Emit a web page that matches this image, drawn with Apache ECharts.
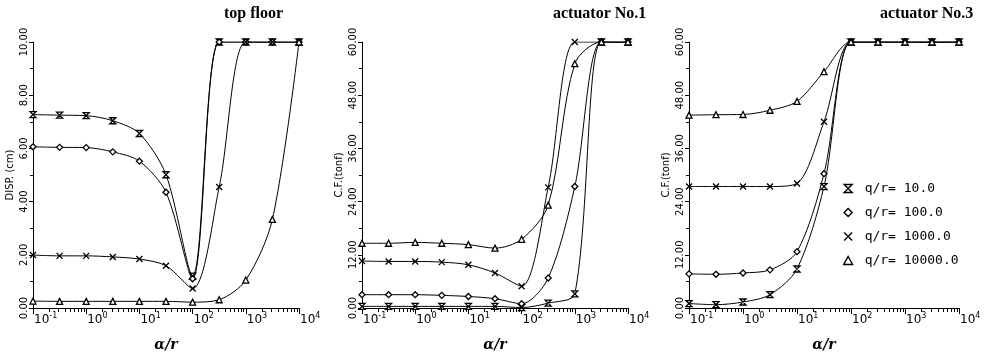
<!DOCTYPE html>
<html><head><meta charset="utf-8">
<script src="https://cdn.jsdelivr.net/npm/echarts@6/dist/echarts.min.js"></script>
<style>html,body{margin:0;padding:0;background:#fff}#c{width:988px;height:353px}</style>
</head><body><div id="c"></div>
<script>
// ---- data ----
const alphaR = [0.1, 0.316, 1, 3.16, 10, 31.6, 100, 316, 1000, 3160, 10000];
const seriesNames = ['q/r= 10.0', 'q/r= 100.0', 'q/r= 1000.0', 'q/r= 10000.0'];
const panelTitles = ['top floor', 'actuator No.1', 'actuator No.3'];
const yAxisNames = ['DISP. (cm)', 'C.F.(tonf)', 'C.F.(tonf)'];
const xAxisName = 'α/r';
const xTickExponents = ['-1', '0', '1', '2', '3', '4'];
const xMajorTicks = [0.1, 1, 10, 100, 1000];
const xMinorMultipliers = [2, 3, 4, 5, 6, 7, 8, 9];
const yTicksDisp = ['0.00', '2.00', '4.00', '6.00', '8.00', '10.00'];
const yTicksForce = ['0.00', '12.00', '24.00', '36.00', '48.00', '60.00'];

// top floor displacement (cm)
const topFloor_q10    = [7.27, 7.25, 7.23, 7.04, 6.56, 5.01, 1.2, 10, 10, 10, 10];
const topFloor_q100   = [6.06, 6.04, 6.03, 5.87, 5.52, 4.35, 1.1, 10, 10, 10, 10];
const topFloor_q1000  = [1.99, 1.96, 1.96, 1.92, 1.84, 1.59, 0.73, 4.55, 10, 10, 10];
const topFloor_q10000 = [0.26, 0.25, 0.25, 0.25, 0.25, 0.25, 0.22, 0.31, 1.05, 3.33, 10];

// actuator No.1 control force (tonf)
const act1_q10    = [0.37, 0.37, 0.37, 0.37, 0.37, 0.37, 0.1, 1.1, 3.2, 60, 60];
const act1_q100   = [3.0, 3.0, 3.0, 2.85, 2.6, 2.1, 0.97, 6.75, 27.4, 60, 60];
const act1_q1000  = [10.6, 10.5, 10.5, 10.35, 9.75, 7.9, 4.9, 27.2, 60, 60, 60];
const act1_q10000 = [14.6, 14.6, 14.8, 14.6, 14.3, 13.5, 15.5, 23.2, 55.1, 60, 60];

// actuator No.3 control force (tonf)
const act3_q10    = [1.0, 0.75, 1.35, 3.0, 8.8, 27.4, 60, 60, 60, 60, 60];
const act3_q100   = [7.7, 7.6, 7.9, 8.6, 12.7, 30.3, 60, 60, 60, 60, 60];
const act3_q1000  = [27.4, 27.4, 27.4, 27.4, 28.1, 42.0, 60, 60, 60, 60, 60];
const act3_q10000 = [43.5, 43.6, 43.65, 44.6, 46.6, 53.3, 60, 60, 60, 60, 60];

const panelData = [
  [topFloor_q10, topFloor_q100, topFloor_q1000, topFloor_q10000],
  [act1_q10, act1_q100, act1_q1000, act1_q10000],
  [act3_q10, act3_q100, act3_q1000, act3_q10000]
];

// ---- styles ----
const markerShapes = [
  'path://M0,0L10,0L0,10L10,10Z',
  'path://M5,0L10,5L5,10L0,5Z',
  'path://M0,0L10,10M10,0L0,10',
  'path://M5,0L10,9L0,9Z'
];
const gridBoxes = [
  {left: 33, top: 42, width: 266, height: 266},
  {left: 362, top: 42, width: 266, height: 266},
  {left: 689, top: 42, width: 270, height: 266}
];
const titlePos = [224, 553, 880];
const yRanges = [{max: 10, interval: 2, labels: yTicksDisp}, {max: 60, interval: 12, labels: yTicksForce}, {max: 60, interval: 12, labels: yTicksForce}];

const labelFont = 'DejaVu Sans';
const axisLineStyle = {color: '#000', width: 1};

const chart = echarts.init(document.getElementById('c'), null, {renderer: 'canvas'});

const grids = gridBoxes.map(g => Object.assign({containLabel: false, outerBoundsMode: 'none'}, g));

const xAxes = gridBoxes.map((g, i) => ({
  type: 'log', gridIndex: i, logBase: 10, min: 0.1, max: 10000,
  name: xAxisName, nameLocation: 'middle', nameGap: 30,
  nameTextStyle: {fontFamily: 'DejaVu Serif', fontStyle: 'italic', fontWeight: 'bold', fontSize: 14, color: '#000'},
  axisLine: {show: true, lineStyle: axisLineStyle},
  axisTick: {show: true, length: 6, lineStyle: axisLineStyle},
  minorTick: {show: false},
  splitLine: {show: false}, minorSplitLine: {show: false},
  axisLabel: {
    show: true, margin: 4, align: 'left', padding: [0, 0, 0, 1],
    formatter: (v, idx) => '{b|10}{s|' + xTickExponents[idx] + '}',
    rich: {
      b: {fontFamily: labelFont, fontSize: 12, color: '#000'},
      s: {fontFamily: labelFont, fontSize: 8, color: '#000', verticalAlign: 'bottom', padding: [0, 0, 8, 0]}
    }
  }
}));

const yAxes = gridBoxes.map((g, i) => ({
  type: 'value', gridIndex: i, min: 0, max: yRanges[i].max, interval: yRanges[i].interval,
  name: yAxisNames[i], nameLocation: 'middle', nameGap: 18, nameRotate: 90,
  nameTextStyle: {fontFamily: labelFont, fontSize: 10, color: '#000'},
  axisLine: {show: true, lineStyle: axisLineStyle},
  axisTick: {show: true, length: 4, lineStyle: axisLineStyle},
  minorTick: {show: true, splitNumber: 2, length: 3, lineStyle: axisLineStyle},
  splitLine: {show: false}, minorSplitLine: {show: false},
  axisLabel: {
    show: true, rotate: 90, margin: 4, fontFamily: labelFont, fontSize: 10, color: '#000',
    formatter: (v, idx) => yRanges[i].labels[idx]
  }
}));

const series = [];
panelData.forEach((sets, p) => {
  sets.forEach((vals, k) => {
    series.push({
      type: 'line', name: seriesNames[k], xAxisIndex: p, yAxisIndex: p,
      data: alphaR.map((x, j) => [x, vals[j]]),
      smooth: 0.3, clip: true,
      symbol: markerShapes[k], symbolSize: 6, showSymbol: true,
      color: '#fff',
      lineStyle: {color: '#000', width: 1},
      itemStyle: {color: '#fff', borderColor: '#000', borderWidth: 1.3},
      emphasis: {disabled: true}
    });
  });
});

const option = {
  backgroundColor: '#fff',
  animation: false,
  title: panelTitles.map((t, i) => ({
    text: t, left: titlePos[i], top: 6, padding: 0,
    textStyle: {fontFamily: 'Liberation Serif', fontWeight: 'bold', fontSize: 16, color: '#000'}
  })),
  legend: {
    show: true, orient: 'vertical', left: 843, top: 182, padding: 0,
    itemWidth: 9, itemHeight: 8, itemGap: 11,
    data: seriesNames.map((n, k) => ({name: n, icon: markerShapes[k]})),
    itemStyle: {color: '#fff', borderColor: '#000', borderWidth: 1.4},
    lineStyle: {width: 0},
    textStyle: {fontFamily: 'DejaVu Sans Mono', fontSize: 13, color: '#000', padding: [0, 0, 0, 7]},
    selectedMode: false
  },
  grid: grids,
  xAxis: xAxes,
  yAxis: yAxes,
  series: series
};
chart.setOption(option);

// log-scale minor ticks (2..9 per decade), positioned through each x axis' own scale
const minorTickGraphics = [];
gridBoxes.forEach((g, i) => {
  const yBase = g.top + g.height;
  xMajorTicks.forEach(d => {
    xMinorMultipliers.forEach(m => {
      const pt = chart.convertToPixel({gridIndex: i}, [d * m, 0]);
      const px = Array.isArray(pt) ? pt[0] : pt;
      if (typeof px === 'number' && isFinite(px)) {
        minorTickGraphics.push({
          type: 'line', silent: true, z: 100,
          shape: {x1: Math.round(px) + 0.5, y1: yBase, x2: Math.round(px) + 0.5, y2: yBase + 4},
          style: {stroke: '#000', lineWidth: 1}
        });
      }
    });
  });
});
chart.setOption({graphic: {elements: minorTickGraphics}});
</script>
</body></html>
